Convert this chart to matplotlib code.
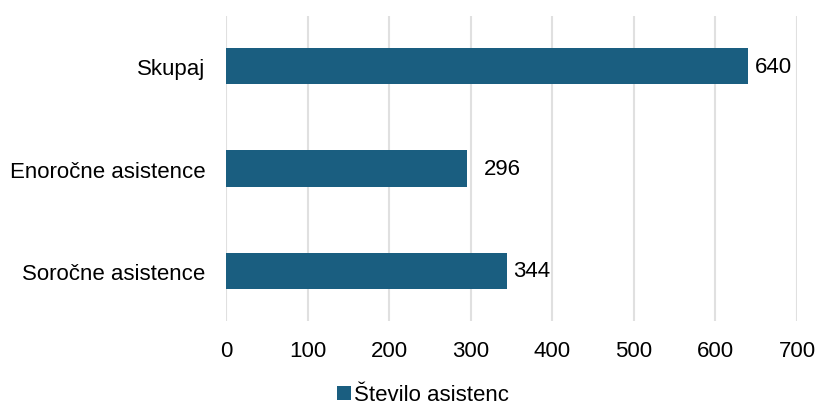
import matplotlib
matplotlib.use("Agg")
import matplotlib.pyplot as plt

# data (top to bottom)
categories = ["Skupaj", "Enoročne asistence", "Soročne asistence"]
values = [640, 296, 344]
series_name = "Število asistenc"
xticks = [0, 100, 200, 300, 400, 500, 600, 700]

plt.rcParams['font.family'] = ['Liberation Sans', 'DejaVu Sans']
plt.rcParams['font.size'] = 16

fig = plt.figure(figsize=(8.21, 4.06), dpi=100)
ax = fig.add_axes([0.2753, 0.207, 0.6955, 0.751])

pos = list(range(len(categories)))[::-1]
bars = ax.barh(pos, values, height=0.36, color="#1a5e80", label=series_name, zorder=3)
# the middle label sits a bit further out in the original
label_pads = [5, 12, 5]
for b, v, p in zip(bars, values, label_pads):
    ax.annotate(str(v), (v, b.get_y() + b.get_height() / 2), xytext=(p, 0),
                textcoords="offset points", va="center", ha="left")

ax.set_yticks(pos)
ax.set_yticklabels(categories)
ax.set_ylim(-0.488, 2.488)
ax.set_xlim(0, 700)
ax.set_xticks(xticks)
ax.grid(axis="x", color="#e0e0e0", lw=1.5, zorder=0)
ax.tick_params(length=0)
ax.tick_params(axis="x", pad=14)
ax.tick_params(axis="y", pad=15)
for s in ax.spines.values():
    s.set_visible(False)

fig.legend(loc="center", bbox_to_anchor=(423 / 821, 1 - 396 / 406), frameon=False,
           handlelength=0.6, handleheight=0.6, handletextpad=0.15, fontsize=16)

fig.savefig("out.png", dpi=100)
